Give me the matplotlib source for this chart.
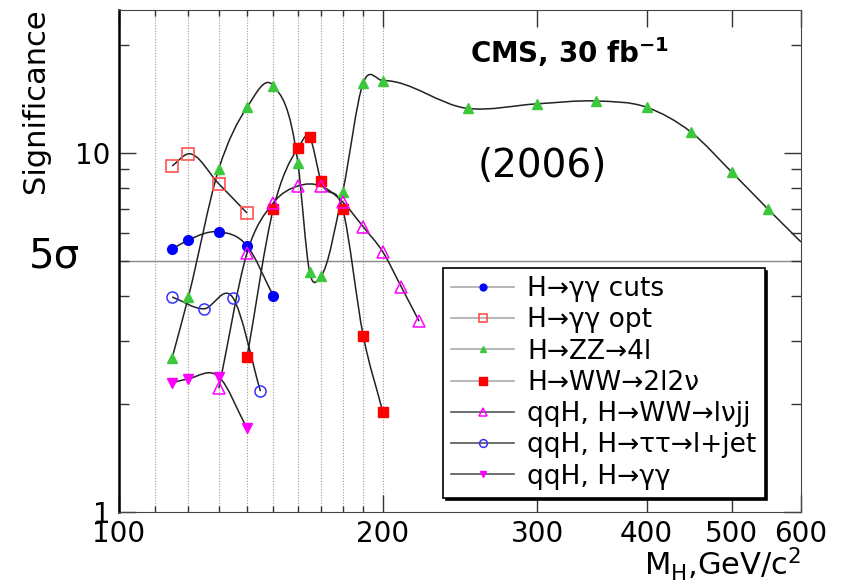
import numpy as np
import matplotlib
matplotlib.use("Agg")
import matplotlib.pyplot as plt
from matplotlib.path import Path
from matplotlib.patches import PathPatch
from matplotlib.lines import Line2D
from matplotlib.transforms import blended_transform_factory

plt.rcParams["font.family"] = ["DejaVu Sans"]
plt.rcParams["mathtext.fontset"] = "dejavusans"

# --- data (M_H in GeV/c^2, significance) ---
gg_cuts_m = [115, 120, 130, 140, 150]
gg_cuts_s = [5.40, 5.72, 6.03, 5.51, 4.00]

gg_opt_m = [115, 120, 130, 140]
gg_opt_s = [9.2, 9.94, 8.2, 6.8]

zz_m = [115, 120, 130, 140, 150, 160, 165, 170, 180, 190, 200,
        250, 300, 350, 400, 450, 500, 550, 600]
zz_s = [2.69, 3.97, 9.03, 13.4, 15.4, 9.38, 4.66, 4.54, 7.79, 15.7, 15.9,
        13.3, 13.7, 13.95, 13.4, 11.4, 8.85, 6.98, 5.65]

ww2l_m = [140, 150, 160, 165, 170, 180, 190, 200]
ww2l_s = [2.70, 6.98, 10.3, 11.08, 8.36, 6.98, 3.09, 1.90]

qqww_m = [130, 140, 150, 160, 170, 180, 190, 200, 210, 220]
qqww_s = [2.21, 5.27, 7.26, 8.09, 8.09, 7.3, 6.22, 5.3, 4.23, 3.40]

qqtt_m = [115, 125, 135, 145]
qqtt_s = [3.97, 3.68, 3.94, 2.17]

qqgg_m = [115, 120, 130, 140]
qqgg_s = [2.29, 2.35, 2.38, 1.71]

grid_m = [110, 120, 130, 140, 150, 160, 170, 180, 190, 200]


def smooth_path(xs, ys):
    """Cubic Hermite curve through the points in log-log space."""
    lx = np.log10(np.asarray(xs, float))
    ly = np.log10(np.asarray(ys, float))
    h = np.diff(lx)
    d = np.diff(ly) / h
    m = np.empty_like(lx)
    m[0], m[-1] = d[0], d[-1]
    for i in range(1, len(lx) - 1):
        m[i] = (d[i] * h[i - 1] + d[i - 1] * h[i]) / (h[i - 1] + h[i])
    verts = [(lx[0], ly[0])]
    codes = [Path.MOVETO]
    for i in range(len(lx) - 1):
        verts += [(lx[i] + h[i] / 3, ly[i] + m[i] * h[i] / 3),
                  (lx[i + 1] - h[i] / 3, ly[i + 1] - m[i + 1] * h[i] / 3),
                  (lx[i + 1], ly[i + 1])]
        codes += [Path.CURVE4] * 3
    return Path(10 ** np.array(verts), codes)


series = [
    (gg_cuts_m, gg_cuts_s, dict(marker="o", mfc="#0000ff", mec="#0000ff", ms=7),
     "H→γγ cuts", "#aaaaaa"),
    (gg_opt_m, gg_opt_s, dict(marker="s", mfc="none", mec="#ff5050", ms=8, mew=1.2),
     "H→γγ opt", "#aaaaaa"),
    (zz_m, zz_s, dict(marker="^", mfc="#3cc83c", mec="#3cc83c", ms=7),
     "H→ZZ→4l", "#aaaaaa"),
    (ww2l_m, ww2l_s, dict(marker="s", mfc="#ff0000", mec="#ff0000", ms=7.5),
     "H→WW→2l2ν", "#aaaaaa"),
    (qqww_m, qqww_s, dict(marker="^", mfc="none", mec="#ff00ff", ms=8, mew=1.1),
     "qqH, H→WW→lνjj", "#555555"),
    (qqtt_m, qqtt_s, dict(marker="o", mfc="none", mec="#3333ff", ms=8, mew=1.1),
     "qqH, H→ττ→l+jet", "#555555"),
    (qqgg_m, qqgg_s, dict(marker="v", mfc="#ff00ff", mec="#ff00ff", ms=7),
     "qqH, H→γγ", "#555555"),
]

fig = plt.figure(figsize=(8.42, 5.83), dpi=100)
ax = fig.add_axes([0.1413, 0.1218, 0.81, 0.861])
ax.set_xscale("log")
ax.set_yscale("log")
ax.set_xlim(100, 600)
ax.set_ylim(1, 25)

for g in grid_m:
    ax.axvline(g, color="#9a9a9a", lw=0.8, ls=(0, (1, 1.5)), zorder=1)
ax.axhline(5, color="#888888", lw=1.0, zorder=1)

handles = []
for xs, ys, mk, label, lcol in series:
    ax.add_patch(PathPatch(smooth_path(xs, ys), fill=False, ec="#222222",
                           lw=1.1, zorder=3))
    npts = len(xs) - 1 if xs is zz_m else len(xs)
    ax.plot(xs[:npts], ys[:npts], ls="none", zorder=4, **mk)
    hk = dict(mk)
    hk["ms"] = mk["ms"] * 0.7
    handles.append(Line2D([], [], color=lcol, lw=1.2, label=label, **hk))

ax.set_xticks([100, 200, 300, 400, 500, 600])
ax.set_xticklabels(["100", "200", "300", "400", "500", "600"])
ax.set_xticks(grid_m[:-1], minor=True)
ax.set_xticklabels([], minor=True)
ax.set_yticks([1, 10])
ax.set_yticklabels(["1", "10"])
ax.set_yticks([2, 3, 4, 5, 6, 7, 8, 9, 20], minor=True)
ax.set_yticklabels([], minor=True)
ax.tick_params(which="both", direction="in", top=True, right=True,
               labelsize=20, width=1.0, color="#333333")
ax.tick_params(which="major", length=12, pad=6)
ax.tick_params(which="minor", length=7)
ax.tick_params(axis="x", which="minor", length=4)
for side in ("top", "right", "bottom"):
    ax.spines[side].set_color("#444444")
ax.spines["left"].set_linewidth(1.8)

ax.set_ylabel("Significance", fontsize=22)
ax.yaxis.set_label_coords(-0.123, 0.82)
ax.yaxis.label.set_va("center")
ax.set_xlabel(r"M$_{\mathrm{H}}$,GeV/c$^{2}$", fontsize=22, ha="right", va="top")
ax.xaxis.set_label_coords(1.0, -0.067)

trans = blended_transform_factory(ax.transAxes, ax.transData)
ax.text(-0.094, 5.15, "5σ", transform=trans, fontsize=29,
        ha="center", va="center")
ax.text(0.515, 0.916, r"CMS, 30 fb$^{\mathbf{-1}}$", transform=ax.transAxes,
        fontsize=20, fontweight="bold", ha="left", va="center")
ax.text(0.526, 0.689, "(2006)", transform=ax.transAxes, fontsize=28,
        ha="left", va="center")

leg = ax.legend(handles=handles, loc="upper left", bbox_to_anchor=(0.475, 0.486),
                borderaxespad=0, fontsize=19, frameon=True, fancybox=False,
                handlelength=2.4, handletextpad=0.5, labelspacing=0.2,
                borderpad=0.3,
                shadow={"facecolor": "black", "edgecolor": "black", "alpha": 1})
leg.get_frame().set_edgecolor("black")
leg.get_frame().set_linewidth(1.2)

fig.savefig("out.png", dpi=100)
